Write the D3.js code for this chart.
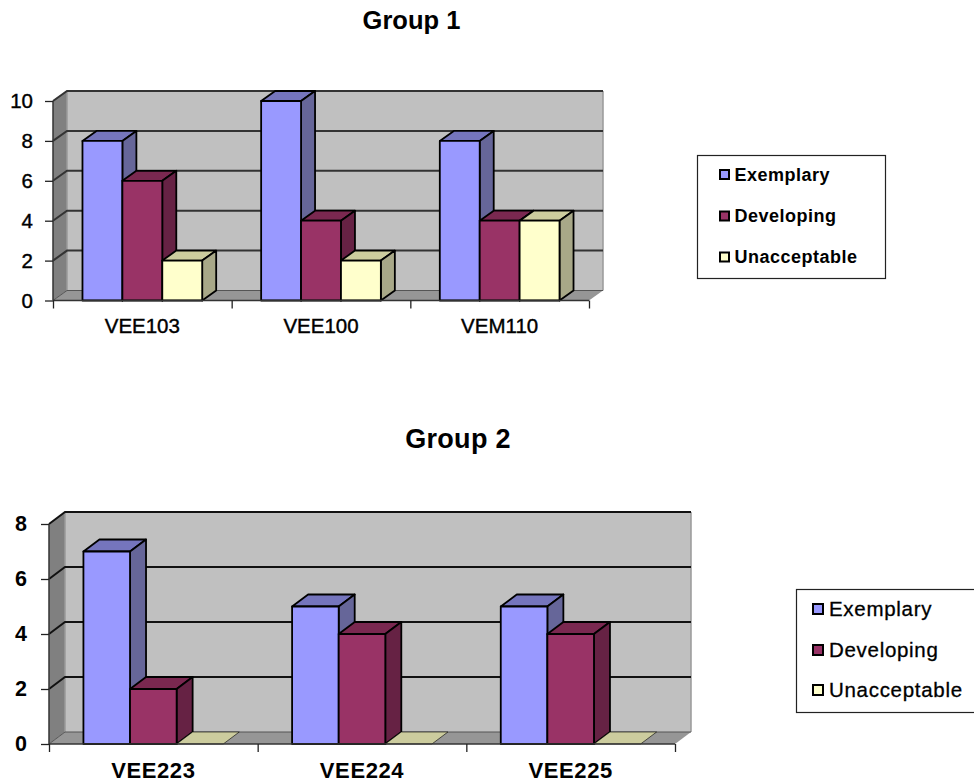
<!DOCTYPE html>
<html>
<head>
<meta charset="utf-8">
<script src="https://cdn.jsdelivr.net/npm/d3@7"></script>
<style>
  body { margin: 0; background: #fff; }
  text { font-family: "Liberation Sans", Arial, sans-serif; fill: #000; }
</style>
</head>
<body>
<div id="chart"></div>
<script>
const seriesNames = ['Exemplary', 'Developing', 'Unacceptable']

const group1Categories = ['VEE103', 'VEE100', 'VEM110']
const group1Exemplary = [8, 10, 8]
const group1Developing = [6, 4, 4]
const group1Unacceptable = [2, 2, 4]
const group1Ticks = [0, 2, 4, 6, 8, 10]

const group2Categories = ['VEE223', 'VEE224', 'VEE225']
const group2Exemplary = [7, 5, 5]
const group2Developing = [2, 4, 4]
const group2Unacceptable = [0, 0, 0]
const group2Ticks = [0, 2, 4, 6, 8]

const front = ['#9999ff', '#993366', '#ffffcc']
const side = ['#666699', '#662244', '#a8a888']
const top_ = ['#7575bd', '#7a2850', '#cccc9e']

const svg = d3
  .select('#chart')
  .append('svg')
  .attr('width', 974)
  .attr('height', 782)
  .style('display', 'block')

function poly(g, pts, fill, stroke, sw) {
  g
    .append('polygon')
    .attr('points', pts.map(p => p.join(',')).join(' '))
    .attr('fill', fill)
    .attr('stroke', stroke)
    .attr('stroke-width', sw)
    .attr('stroke-linejoin', 'round')
}

function drawChart(opt) {
  const g = svg.append('g')
  const [x0, x1] = opt.xRange
  const [y0, y1] = opt.yRange
  const dx = opt.dx,
    dy = opt.dy

  const x = d3
    .scaleBand()
    .domain(opt.categories)
    .range([x0, x1])
    .paddingInner(0.33)
    .paddingOuter(0.165)
  const inner = d3
    .scaleBand()
    .domain(d3.range(seriesNames.length))
    .range([0, x.bandwidth()])
  const y = d3
    .scaleLinear()
    .domain(d3.extent(opt.ticks))
    .range([y0, y1])

  // walls and floor
  poly(g, [[x0 + dx, y1 - dy], [x1 + dx, y1 - dy], [x1 + dx, y0 - dy], [x0 + dx, y0 - dy]], '#c0c0c0', 'none', 0)
  poly(g, [[x0, y1], [x0 + dx, y1 - dy], [x0 + dx, y0 - dy], [x0, y0]], '#808080', 'none', 0)
  poly(g, [[x0, y0], [x0 + dx, y0 - dy], [x1 + dx, y0 - dy], [x1, y0]], '#969696', 'none', 0)
  g
    .append('path')
    .attr('d', `M${x0 + dx},${y1 - dy}V${y0 - dy}M${x1 + dx},${y1 - dy}V${y0 - dy}`)
    .attr('stroke', '#999')
    .attr('stroke-width', 1.5)

  // gridlines, running along the side wall and the back wall
  g
    .selectAll('.grid')
    .data(opt.ticks)
    .enter()
    .append('path')
    .attr('d', d => `M${x0},${y(d)}L${x0 + dx},${y(d) - dy}H${x1 + dx}`)
    .attr('fill', 'none')
    .attr('stroke', d => (d === 0 ? '#555' : opt.gridColor))
    .attr('stroke-width', d => (d === 0 ? 1 : 2))

  // bars
  opt.categories.forEach(function(cat, c) {
    opt.values.forEach(function(vals, s) {
      const l = x(cat) + inner(s),
        r = l + inner.bandwidth(),
        t = y(vals[c])
      poly(g, [[l, t], [l + dx, t - dy], [r + dx, t - dy], [r, t]], top_[s], '#000', vals[c] === 0 ? 0.6 : 1.8)
      if (vals[c] > 0) {
        poly(g, [[r, t], [r + dx, t - dy], [r + dx, y0 - dy], [r, y0]], side[s], '#000', 1.8)
        poly(g, [[l, t], [r, t], [r, y0], [l, y0]], front[s], '#000', 1.8)
      }
    })
  })

  // axes
  const yAxis = g
    .append('g')
    .attr('transform', `translate(${x0},0)`)
    .call(d3.axisLeft(y).tickValues(opt.ticks).tickSize(opt.tickSize).tickPadding(opt.yPad))
  yAxis
    .selectAll('text')
    .style('font-size', opt.tickFont + 'px')
    .style('font-weight', opt.tickWeight)
    .style('stroke', '#000')
    .style('stroke-width', opt.textStroke)
  yAxis.select('.domain').attr('stroke', '#333').attr('stroke-width', 1.5).attr('d', `M0,${y0}V${y1}`)
  yAxis.selectAll('line').attr('stroke', '#222').attr('stroke-width', 1.3)

  const edges = d3.range(opt.categories.length + 1).map(i => x0 + i * x.step())
  const xEdge = d3.scaleIdentity().domain([x0, x1])
  const xAxis = g
    .append('g')
    .attr('transform', `translate(0,${y0})`)
    .call(d3.axisBottom(xEdge).tickValues(edges).tickSize(opt.tickSize).tickFormat(''))
  xAxis.select('.domain').attr('stroke', '#333').attr('stroke-width', 1.3).attr('d', `M${x0},0H${x1}`)
  xAxis.selectAll('line').attr('stroke', '#222').attr('stroke-width', 1.3)

  g
    .selectAll('.cat')
    .data(opt.categories)
    .enter()
    .append('text')
    .attr('x', d => x(d) + x.bandwidth() / 2)
    .attr('y', opt.catY)
    .attr('text-anchor', 'middle')
    .style('font-size', opt.catFont + 'px')
    .style('font-weight', opt.tickWeight)
    .style('letter-spacing', opt.catSpacing + 'px')
    .style('stroke', '#000')
    .style('stroke-width', opt.textStroke)
    .text(d => d)

  // title
  g
    .append('text')
    .attr('x', opt.titleX)
    .attr('y', opt.titleY)
    .attr('text-anchor', 'middle')
    .style('font-size', opt.titleFont + 'px')
    .style('font-weight', 'bold')
    .style('letter-spacing', opt.titleSpacing + 'px')
    .text(opt.title)

  // legend
  const lg = opt.legend
  g
    .append('rect')
    .attr('x', lg.x + 0.5)
    .attr('y', lg.y + 0.5)
    .attr('width', lg.w)
    .attr('height', lg.h)
    .attr('fill', '#fff')
    .attr('stroke', '#222')
    .attr('stroke-width', 1.2)
  const item = g
    .selectAll('.legend-item')
    .data(seriesNames)
    .enter()
    .append('g')
    .attr('transform', (d, i) => `translate(${lg.swatchX},${lg.rows[i]})`)
  item
    .append('rect')
    .attr('x', 0)
    .attr('y', -lg.swatch / 2)
    .attr('width', lg.swatch)
    .attr('height', lg.swatch)
    .attr('fill', (d, i) => front[i])
    .attr('stroke', '#000')
    .attr('stroke-width', 2)
  item
    .append('text')
    .attr('x', lg.textDx)
    .attr('dy', '0.35em')
    .style('font-size', lg.font + 'px')
    .style('font-weight', lg.weight)
    .style('letter-spacing', lg.spacing + 'px')
    .style('stroke', '#000')
    .style('stroke-width', lg.stroke)
    .text(d => d)
}

drawChart({
  title: 'Group 1',
  titleX: 411.5,
  titleY: 29,
  titleFont: 25.5,
  titleSpacing: 0,
  categories: group1Categories,
  values: [group1Exemplary, group1Developing, group1Unacceptable],
  ticks: group1Ticks,
  xRange: [53, 589],
  yRange: [300.5, 101],
  dx: 14,
  dy: 10,
  gridColor: '#333',
  tickSize: 8,
  yPad: 12,
  tickFont: 20.5,
  tickWeight: 'normal',
  textStroke: 0.4,
  catFont: 20.5,
  catSpacing: 0,
  catY: 333,
  legend: {
    x: 697, y: 155, w: 188, h: 123,
    swatchX: 720, swatch: 9, textDx: 14.5,
    rows: [174.5, 216, 257],
    font: 18, weight: 'bold', spacing: 0.5, stroke: 0,
  },
})

drawChart({
  title: 'Group 2',
  titleX: 458,
  titleY: 448,
  titleFont: 27,
  titleSpacing: 0.3,
  categories: group2Categories,
  values: [group2Exemplary, group2Developing, group2Unacceptable],
  ticks: group2Ticks,
  xRange: [49, 675],
  yRange: [744, 524],
  dx: 16,
  dy: 12,
  gridColor: '#111',
  tickSize: 8,
  yPad: 14,
  tickFont: 21.5,
  tickWeight: 'bold',
  textStroke: 0,
  catFont: 22,
  catSpacing: 0.6,
  catY: 778,
  legend: {
    x: 796, y: 589, w: 180, h: 123,
    swatchX: 813, swatch: 10, textDx: 16,
    rows: [609, 650, 690],
    font: 20.5, weight: 'normal', spacing: 0.7, stroke: 0.3,
  },
})
</script>
</body>
</html>
